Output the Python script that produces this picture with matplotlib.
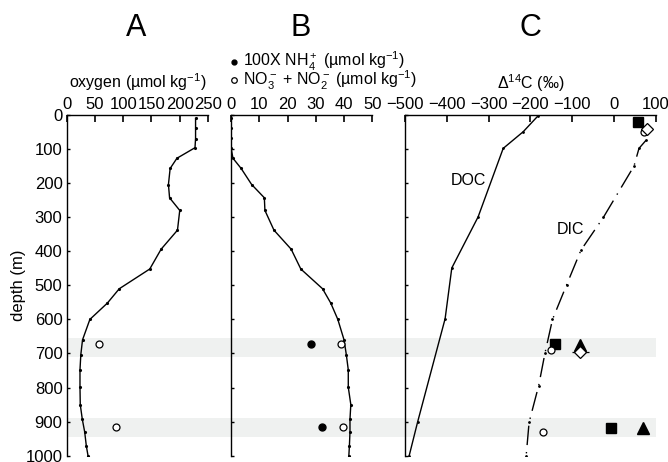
import matplotlib.pyplot as plt
from matplotlib.patches import Rectangle
from matplotlib import transforms

plt.rcParams.update({
    "font.family": ["Liberation Sans", "DejaVu Sans"],
    "font.size": 11.5,
    "mathtext.fontset": "custom",
    "mathtext.rm": "Liberation Sans",
    "mathtext.it": "Liberation Sans:italic",
    "mathtext.bf": "Liberation Sans:bold",
})

# panel A - oxygen profile
ox_depth = [10, 37, 69, 96, 127, 157, 204, 243, 280, 338, 394, 452, 510, 552,
            600, 660, 703, 748, 799, 850, 893, 930, 971, 1000]
ox_val = [228, 228, 228, 227, 195, 183, 180, 182, 200, 196, 167, 147, 93, 72,
          41, 28, 25, 23.5, 23.5, 24, 27.6, 31.8, 34.7, 37.7]
ox_obs_depth = [671, 917]
ox_obs_val = [57.7, 87]

# panel B - nitrate + nitrite profile, ammonium samples
no3_depth = [10, 37, 68, 96, 127, 157, 204, 243, 280, 338, 394, 452, 510, 552,
             600, 660, 703, 748, 799, 850, 893, 930, 971, 1000]
no3_val = [0, 0, 0, 0, 0.7, 3.6, 7.3, 11.8, 12, 15.2, 21.3, 24.7, 32.4, 35.3,
           37.8, 40.0, 40.8, 41.5, 41.5, 42.4, 42.1, 42.1, 41.9, 41.7]
nh4_depth = [671, 917]
nh4_val = [28.3, 32.3]
no3_obs_depth = [671, 917]
no3_obs_val = [38.9, 39.5]

# panel C - radiocarbon
doc_depth = [3, 49, 98, 299, 449, 598, 902, 1000]
doc_val = [-182, -217, -265, -325, -388, -404, -470, -490]
dic_depth = [74, 98, 150, 300, 397, 498, 600, 699, 794, 902, 1000]
dic_val = [77, 60, 48, -25, -79, -113, -147, -165, -180, -203, -210]
sq_depth = [20, 672, 919]
sq_val = [57, -141, -8]
tri_depth = [674, 919]
tri_val = [-80, 70]
dia_depth = [40, 696]
dia_val = [80, -80]
circ_depth = [49, 691, 930]
circ_val = [72, -151, -170]

bands = [(654, 711), (889, 946)]

W, H = 668, 462
fig = plt.figure(figsize=(W / 100, H / 100), dpi=100)

top_px, bot_px = 115, 455.7
bottom = 1 - bot_px / H
height = (bot_px - top_px) / H
ax_a = fig.add_axes([66.7 / W, bottom, 141.3 / W, height])
ax_b = fig.add_axes([231 / W, bottom, 141.3 / W, height])
ax_c = fig.add_axes([405 / W, bottom, 250.7 / W, height])

for ax in (ax_a, ax_b, ax_c):
    ax.set_facecolor("none")
    ax.set_ylim(1000, 0)
    ax.set_yticks(range(0, 1001, 100))
    ax.xaxis.tick_top()
    ax.spines["right"].set_visible(False)
    ax.spines["bottom"].set_visible(False)
    for s in ("left", "top"):
        ax.spines[s].set_linewidth(1.0)
    ax.tick_params(axis="x", direction="in", length=5, width=1.2, pad=2, labelsize=12)
    ax.tick_params(axis="y", direction="in", length=2.5, width=1.0, pad=3, labelsize=12)

for ax in (ax_b, ax_c):
    ax.tick_params(axis="y", labelleft=False)

# shaded sampling horizons across all panels
tr = transforms.blended_transform_factory(fig.transFigure, ax_a.transData)
for d0, d1 in bands:
    rect = Rectangle((66.7 / W, d0), (655.7 - 66.7) / W, d1 - d0, transform=tr,
                     facecolor="#eff1f0", edgecolor="none", zorder=-1)
    fig.add_artist(rect)

# A
ax_a.set_xlim(0, 250)
ax_a.set_xticks(range(0, 251, 50))
ax_a.plot(ox_val, ox_depth, "k-", lw=1, marker=".", ms=2.5)
ax_a.plot(ox_obs_val, ox_obs_depth, "o", mfc="white", mec="k", ms=5, mew=0.9)
ax_a.text(0.5, 1.097, "oxygen (µmol kg$^{-1}$)", transform=ax_a.transAxes,
          ha="center", va="center", fontsize=11.5)

# B
ax_b.set_xlim(0, 50)
ax_b.set_xticks(range(0, 51, 10))
ax_b.plot(no3_val, no3_depth, "k-", lw=1, marker=".", ms=2.5)
ax_b.plot(nh4_val, nh4_depth, "o", color="k", ms=5)
ax_b.plot(no3_obs_val, no3_obs_depth, "o", mfc="white", mec="k", ms=5, mew=0.9)
ax_b.plot([0.02], [1.156], "o", color="k", ms=3.5, transform=ax_b.transAxes, clip_on=False)
ax_b.plot([0.02], [1.103], "o", mfc="white", mec="k", ms=4, mew=0.9,
          transform=ax_b.transAxes, clip_on=False)
ax_b.text(0.085, 1.158, "100X NH$_4^+$ (µmol kg$^{-1}$)", transform=ax_b.transAxes,
          ha="left", va="center", fontsize=11.5)
ax_b.text(0.085, 1.101, "NO$_3^-$ + NO$_2^-$ (µmol kg$^{-1}$)", transform=ax_b.transAxes,
          ha="left", va="center", fontsize=11.5)

# C
ax_c.set_xlim(-500, 100)
ax_c.set_xticks(range(-500, 101, 100))
ax_c.plot(doc_val, doc_depth, "k-", lw=1, marker=".", ms=2)
ax_c.plot(dic_val, dic_depth, color="k", lw=1, dashes=(14, 5, 1, 5), marker=".", ms=2)
ax_c.plot(sq_val, sq_depth, "s", color="k", ms=7.5, clip_on=False)
ax_c.plot(tri_val, tri_depth, "^", color="k", ms=8)
ax_c.errorbar(dia_val, dia_depth, xerr=[6, 20], fmt="D", mfc="white", mec="k",
              ecolor="k", elinewidth=0.9, capsize=0, ms=6, mew=0.9)
ax_c.plot(circ_val, circ_depth, "o", mfc="white", mec="k", ms=5, mew=0.9)
ax_c.text(-349, 191, "DOC", ha="center", va="center", fontsize=11.5)
ax_c.text(-105, 336, "DIC", ha="center", va="center", fontsize=11.5)
ax_c.text(0.5, 1.094, "$\\Delta^{14}$C (‰)", transform=ax_c.transAxes,
          ha="center", va="center", fontsize=11.5)

# panel letters and shared y label
for letter, xc in (("A", 136), ("B", 301), ("C", 530)):
    fig.text(xc / W, 1 - 28 / H, letter, ha="center", va="center", fontsize=22)
fig.text(18 / W, 1 - 285 / H, "depth (m)", rotation=90, ha="center", va="center",
         fontsize=12)

plt.savefig("out.png", dpi=100)
